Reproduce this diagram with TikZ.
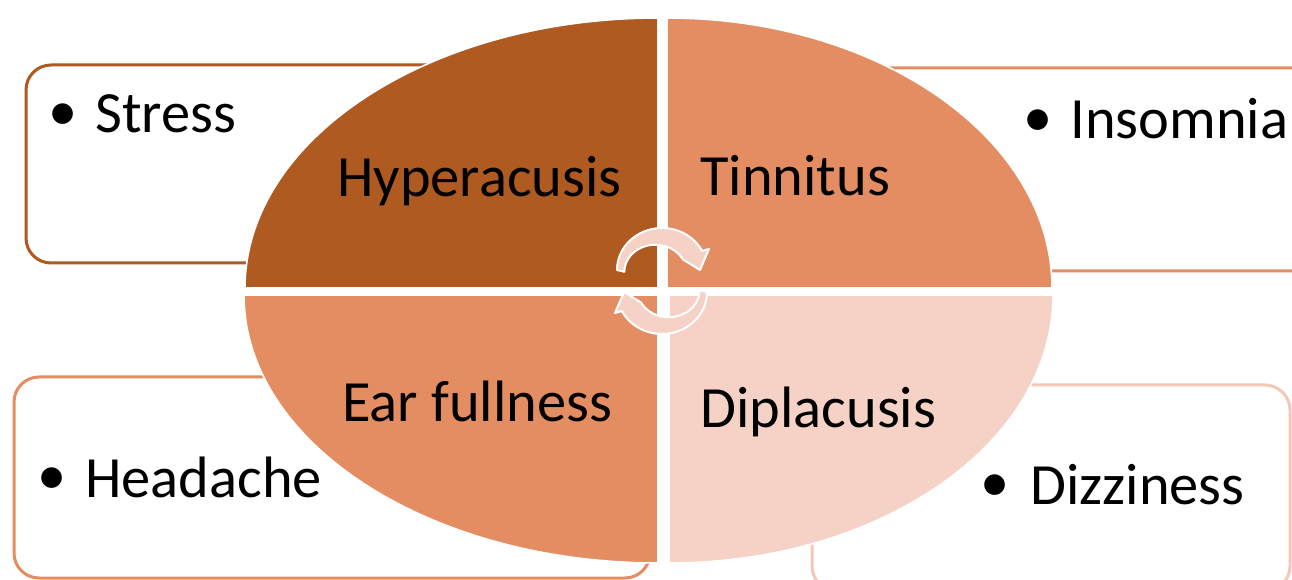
\documentclass[tikz,border=0pt]{standalone}
\usepackage{fontspec}
\setmainfont{Carlito}
\definecolor{cDark}{HTML}{AE5A21}
\definecolor{cMid}{HTML}{E58D62}
\definecolor{cLight}{HTML}{F6D2C6}
\definecolor{cLightLine}{HTML}{F4C7B6}
\begin{document}
\begin{tikzpicture}[x=0.5pt,y=0.5pt,
  outerbox/.style={line width=1.5pt,rounded corners=12.5pt,fill=white},
  quad/.style={draw=white,line width=0.8pt},
  cyc/.style={fill=cLight,draw=white,line width=1pt,line join=round},
  label/.style={font=\fontsize{29.2}{35}\selectfont,inner sep=0pt,anchor=base west,text=black},
  bul/.style={font=\fontsize{29.2}{35}\selectfont,inner sep=0pt,anchor=center,text=black}]
\useasboundingbox (0,0) rectangle (1292,579);
\clip (0,0) rectangle (1292,579);
\fill[white] (0,0) rectangle (1292,579);
% outer boxes
\draw[outerbox,draw=cDark] (26,316) rectangle (640,514);
\draw[outerbox,draw=cMid] (690,308) rectangle (1320,511);
\draw[outerbox,draw=cMid] (14,1) rectangle (650,202);
\draw[outerbox,draw=cLightLine] (812,-12) rectangle (1290,194);
% quadrants
\path[quad,fill=cDark] (658,291) -- (245,291) arc[start angle=180,end angle=90,x radius=413,y radius=270] -- cycle;
\path[quad,fill=cMid] (667,291) -- (667,561) arc[start angle=90,end angle=0,x radius=385,y radius=270] -- cycle;
\path[quad,fill=cMid] (658,284) -- (658,16) arc[start angle=270,end angle=180,x radius=414,y radius=268] -- cycle;
\path[quad,fill=cLight] (669,284) -- (1053,284) arc[start angle=0,end angle=-90,x radius=384,y radius=268] -- cycle;
% cycle arrows
\path[cyc] (617,309) arc[start angle=180,end angle=27,x radius=45,y radius=42]
  -- (709,330) -- (700,309) -- (683,319.5)
  arc[start angle=27,end angle=180,x radius=31,y radius=27] -- cycle;
\begin{scope}[rotate around={180:(662,298)}]
\path[cyc] (617,309) arc[start angle=180,end angle=27,x radius=45,y radius=42]
  -- (709,330) -- (700,309) -- (683,319.5)
  arc[start angle=27,end angle=180,x radius=31,y radius=27] -- cycle;
\end{scope}
% quadrant labels
\node[label] (hyp) at (337,382) {Hyperacusis};
\node[label] (tin) at (700,383) {Tinnitus};
\node[label] (ear) at (342,157) {Ear fullness};
\node[label] (dip) at (700,151) {Diplacusis};
% bullet items
\node[bul] (b1) at (63,462) {•};
\node[label] (stress) at (95,446) {Stress};
\node[bul] (b2) at (1038,456) {•};
\node[label] (ins) at (1070,440) {Insomnia};
\node[bul] (b3) at (52,98) {•};
\node[label] (head) at (85,81) {Headache};
\node[bul] (b4) at (995,91) {•};
\node[label] (diz) at (1030,74) {Dizziness};
\end{tikzpicture}
\end{document}
